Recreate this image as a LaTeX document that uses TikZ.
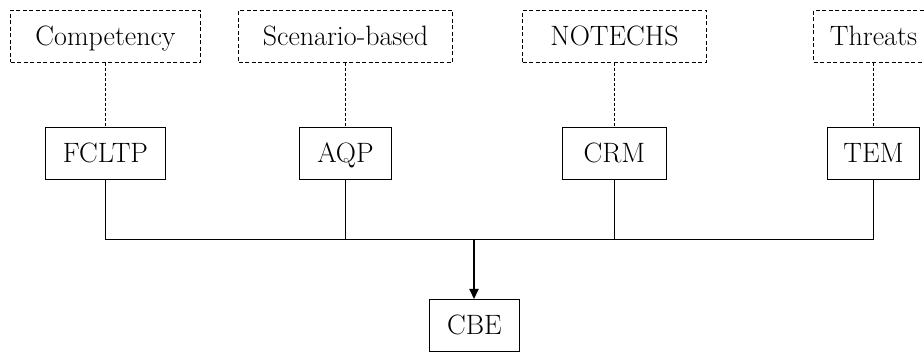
\documentclass[tikz,border=0pt]{standalone}
\usetikzlibrary{arrows.meta}
\begin{document}
\begin{tikzpicture}[x=1pt,y=-1pt,
  lbl/.style={font=\rmfamily\fontsize{28}{33}\selectfont, inner sep=0pt,
    text height=19pt, text depth=0pt, minimum height=52pt, line width=1pt},
  topbox/.style={lbl, draw, dash pattern=on 4pt off 2.5pt},
  midbox/.style={lbl, draw},
  link/.style={line width=1pt, dash pattern=on 3pt off 2pt},
  bus/.style={line width=1pt},
  feed/.style={line width=2pt, -{Triangle[length=10pt,width=9pt]}}]
\useasboundingbox (0,0) rectangle (924,352);
% upper layer: dashed boxes
\node[topbox, minimum width=190pt] (comp) at (105.5,36.5) {Competency};
\node[topbox, minimum width=214pt] (scen) at (345.5,36.5) {Scenario-based};
\node[topbox, minimum width=184pt] (note) at (614.5,36.5) {NOTECHS};
\node[topbox, minimum width=120pt] (thr)  at (873.5,36.5) {Threats};
% middle layer: programmes
\node[midbox, minimum width=120pt] (fcltp) at (105.5,153.5) {FCLTP};
\node[midbox, minimum width=92pt]  (aqp)   at (345.5,153.5) {AQP};
\node[midbox, minimum width=104pt] (crm)   at (614.5,153.5) {CRM};
\node[midbox, minimum width=92pt]  (tem)   at (873.5,153.5) {TEM};
% bottom: target
\node[midbox, minimum width=90pt]  (cbe)   at (474.5,325.5) {CBE};
% dashed links
\draw[link] (comp.south) -- (fcltp.north);
\draw[link] (scen.south) -- (aqp.north);
\draw[link] (note.south) -- (crm.north);
\draw[link] (thr.south)  -- (tem.north);
% collecting bus
\coordinate (hub) at (474,239.5);
\draw[bus] (fcltp.south) |- (hub) -| (tem.south);
\draw[bus] (aqp.south) -- (aqp.south |- hub);
\draw[bus] (crm.south) -- (crm.south |- hub);
\draw[feed] (hub) -- (hub |- cbe.north);
\end{tikzpicture}
\end{document}
